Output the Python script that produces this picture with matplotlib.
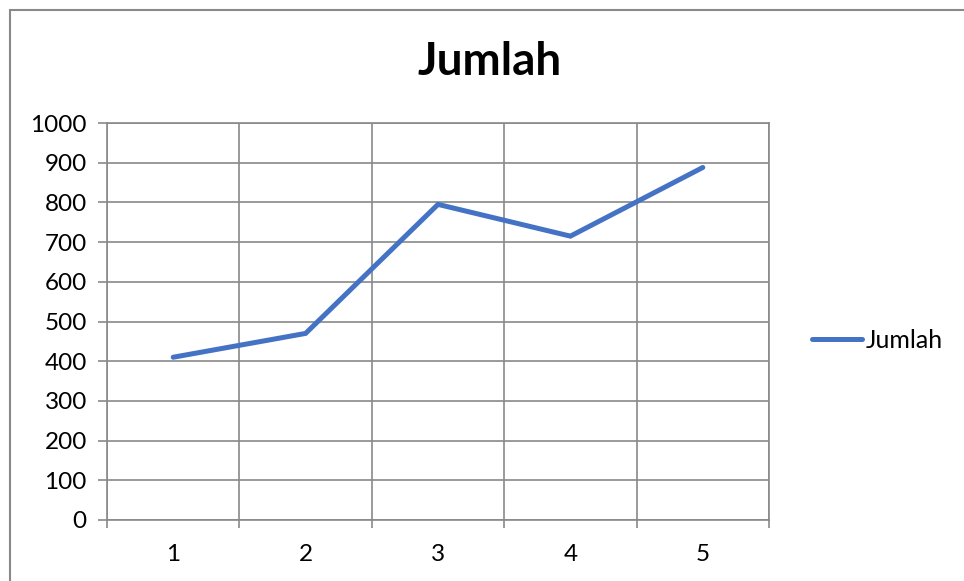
import numpy as np
import matplotlib.pyplot as plt
from matplotlib.patches import Rectangle

categories = ["1", "2", "3", "4", "5"]
jumlah = [410, 470, 795, 715, 888]
y_ticks = list(range(0, 1001, 100))

plt.rcParams['font.family'] = ['Lato', 'DejaVu Sans']

grid_col = "#898989"
line_col = "#4472C4"

fig = plt.figure(figsize=(9.64, 5.81), dpi=100)
ax = fig.add_axes([107 / 964, 61 / 581, 662 / 964, 397 / 581])

xs = np.arange(len(categories))
ax.plot(xs, jumlah, color=line_col, lw=3.6, solid_capstyle="round",
        solid_joinstyle="miter", label="Jumlah", zorder=3)

ax.set_xlim(-0.5, len(categories) - 0.5)
ax.set_ylim(0, 1000)

# category boundaries as major ticks (with gridlines), labels on minor ticks
ax.set_xticks(np.arange(-0.5, len(categories), 1.0))
ax.set_xticklabels([])
ax.set_xticks(xs, minor=True)
ax.set_xticklabels(categories, minor=True)
ax.tick_params(axis="x", which="major", direction="out", length=6, width=1.2, color=grid_col)
ax.tick_params(axis="x", which="minor", length=0, pad=17, labelsize=17.5)

ax.set_yticks(y_ticks)
ax.tick_params(axis="y", direction="out", length=6.5, width=1.2, color=grid_col,
               labelsize=17.5, pad=8)

ax.grid(True, which="major", color=grid_col, lw=1.2)
ax.set_axisbelow(True)
for s in ax.spines.values():
    s.set_color(grid_col)
    s.set_linewidth(1.2)

fig.text(490 / 964, 1 - 62 / 581, "Jumlah", fontsize=33, fontweight="bold",
         ha="center", va="center")

leg = fig.legend(loc="center left", bbox_to_anchor=(789 / 964, 1 - 340 / 581),
                 frameon=False, fontsize=18, handlelength=2.0, handletextpad=0.15)

# outer chart border
fig.patches.append(Rectangle((10 / 964, -0.1), 1.2, 1 - 10 / 581 + 0.1,
                             transform=fig.transFigure, fill=False,
                             edgecolor=grid_col, lw=1.5))

fig.savefig("out.png", dpi=100)
